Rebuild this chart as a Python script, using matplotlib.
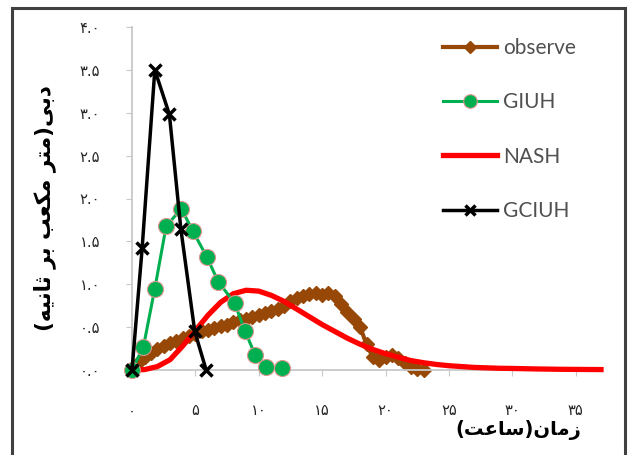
import matplotlib
matplotlib.use('Agg')
import matplotlib.pyplot as plt
from matplotlib.patches import Rectangle

# time (hours) and discharge values
obs_t = [0, 0.5, 1, 1.5, 2, 2.5, 3, 3.5, 4, 4.5, 5, 5.5, 6, 6.5, 7, 7.5, 8, 8.5, 9, 9.5,
         10, 10.5, 11, 11.5, 12, 12.5, 13, 13.5, 14, 14.5, 15, 15.5, 16, 16.5, 17, 17.5,
         18, 18.5, 19, 19.5, 20, 20.5, 21, 21.5, 22, 22.5, 23]
obs_q = [0.0, 0.08, 0.15, 0.2, 0.24, 0.28, 0.32, 0.34, 0.37, 0.4, 0.42, 0.45, 0.47, 0.49,
         0.51, 0.53, 0.56, 0.58, 0.6, 0.62, 0.64, 0.66, 0.69, 0.71, 0.75, 0.8, 0.84, 0.86,
         0.89, 0.9, 0.88, 0.9, 0.86, 0.77, 0.68, 0.6, 0.5, 0.3, 0.15, 0.12, 0.15, 0.17,
         0.14, 0.08, 0.03, 0.01, 0.0]

giuh_t = [0, 0.9, 1.8, 2.7, 3.9, 4.8, 5.9, 6.8, 8.1, 8.9, 9.7, 10.6, 11.8]
giuh_q = [0.0, 0.27, 0.95, 1.68, 1.88, 1.62, 1.32, 1.03, 0.78, 0.46, 0.18, 0.04, 0.02]

nash_t = list(range(0, 38))
nash_q = [0.0, 0.005, 0.04, 0.12, 0.28, 0.46, 0.64, 0.79, 0.89, 0.93, 0.92, 0.87, 0.8,
          0.71, 0.62, 0.53, 0.45, 0.37, 0.3, 0.24, 0.19, 0.15, 0.11, 0.085, 0.065, 0.05,
          0.04, 0.03, 0.025, 0.02, 0.018, 0.015, 0.012, 0.01, 0.008, 0.007, 0.006, 0.005]

gciuh_t = [0, 0.8, 1.8, 2.95, 3.85, 4.95, 5.85]
gciuh_q = [0.0, 1.42, 3.5, 2.98, 1.65, 0.45, 0.0]

xticks = [0, 5, 10, 15, 20, 25, 30, 35]
xtick_labels = ['۰', '۵', '۱۰', '۱۵', '۲۰', '۲۵', '۳۰', '۳۵']
yticks = [0, 0.5, 1.0, 1.5, 2.0, 2.5, 3.0, 3.5, 4.0]
ytick_labels = ['۰.۰', '۰.۵', '۱.۰', '۱.۵', '۲.۰', '۲.۵', '۳.۰', '۳.۵', '۴.۰']

# Persian labels written in visual order with presentation forms (no shaping in matplotlib)
xlabel = '(\uFE96\uFECB\uFE8E\uFEB3)\uFEE5\uFE8E\uFEE3\uFEAF'   # زمان(ساعت)
ylabel = ('(\uFEEA\uFEF4\uFEE7\uFE8E\uFE9B \uFEAE\uFE91 \uFE90\uFECC\uFB91\uFEE3 '
          '\uFEAE\uFE98\uFEE3)\uFEF0\uFE91\uFEA9')                  # دبی(متر مکعب بر ثانیه)

fig = plt.figure(figsize=(6.33, 4.55), dpi=100)
ax = fig.add_axes([132/633, 1-370/455, (601-132)/633, (370-27)/455])

ax.plot(obs_t, obs_q, color='#974806', lw=3, marker='D', ms=7, label='observe',
        zorder=2, clip_on=False)
ax.plot(nash_t, nash_q, color='#FF0000', lw=3.8, label='NASH', zorder=3, clip_on=False)
ax.plot(giuh_t, giuh_q, color='#00B050', lw=2.2, marker='o', ms=11.5, mec='#d9958f', mew=0.8,
        label='GIUH', zorder=4, clip_on=False)
ax.plot(gciuh_t, gciuh_q, color='black', lw=2.5, marker='x', ms=9, mew=2.5,
        label='GCIUH', zorder=5, clip_on=False)

ax.set_xlim(0, 37)
ax.set_ylim(0, 4.0)
ax.set_xticks(xticks)
ax.set_xticklabels(xtick_labels)
ax.set_yticks(yticks)
ax.set_yticklabels(ytick_labels)

for s in ['top', 'right']:
    ax.spines[s].set_visible(False)
for s in ['left', 'bottom']:
    ax.spines[s].set_color('#c8c8c8')
    ax.spines[s].set_linewidth(1.3)
ax.tick_params(axis='x', direction='out', length=4, color='#c8c8c8', pad=20,
               labelsize=10.5, labelcolor='#262626')
ax.tick_params(axis='y', direction='out', length=4, color='#c8c8c8', pad=19,
               labelsize=10.5, labelcolor='#262626')

ax.set_xlabel(xlabel, fontsize=14, fontweight='bold', family='DejaVu Sans')
ax.xaxis.set_label_coords((518-132)/469, (370-430)/343)
ax.xaxis.label.set_va('center')
ax.set_ylabel(ylabel, fontsize=15.5, fontweight='bold', family='DejaVu Sans')
ax.yaxis.set_label_coords((45-132)/469, (370-208)/343)
ax.yaxis.label.set_va('center')

h, l = ax.get_legend_handles_labels()
order = [0, 2, 1, 3]
leg = ax.legend([h[i] for i in order], [l[i] for i in order], loc='upper left',
                bbox_to_anchor=(443/633, 1-38/455), bbox_transform=fig.transFigure,
                frameon=False, borderpad=0, borderaxespad=0, handlelength=2.6,
                handletextpad=0.3, labelspacing=1.65, markerscale=0.85,
                prop={'family': 'Lato', 'size': 15})
for t in leg.get_texts():
    t.set_color('#505050')

fig.patches.append(Rectangle((12/633, -0.02), (625-12)/633, 1-8/455+0.02,
                             transform=fig.transFigure, fill=False,
                             edgecolor='#404040', lw=2.2, clip_on=False))

fig.savefig('out.png', dpi=100)
